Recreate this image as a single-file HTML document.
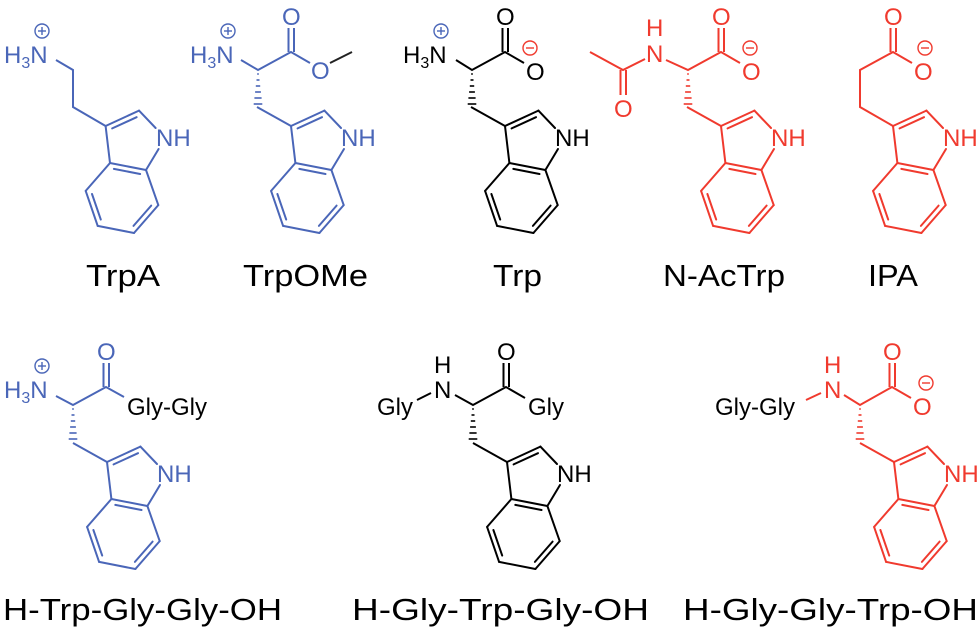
<!DOCTYPE html>
<html><head><meta charset="utf-8"><style>
html,body{margin:0;padding:0;background:#fff;}
svg{display:block;}
text{font-family:"Liberation Sans",Arial,sans-serif;}
.a{font-size:24px;}
.lab{font-size:31px;fill:#000;}
</style></head><body>
<svg width="980" height="633" viewBox="0 0 980 633" xmlns="http://www.w3.org/2000/svg">
<defs>
<g id="ind" fill="none" stroke-width="2" stroke-linecap="round">
<line x1="0" y1="0" x2="33.4" y2="-15.4"/>
<line x1="6.6" y1="2.4" x2="31" y2="-8.8"/>
<line x1="33.4" y1="-15.4" x2="50" y2="2"/>
<line x1="53" y1="23" x2="40.4" y2="44"/>
<line x1="40.4" y1="44" x2="4.4" y2="37"/>
<line x1="34.5" y1="48" x2="8.3" y2="42.9"/>
<line x1="4.4" y1="37" x2="0" y2="0"/>
<line x1="4.4" y1="37" x2="-19.9" y2="64.9"/>
<line x1="-19.9" y1="64.9" x2="-7.9" y2="99.9"/>
<line x1="-13.6" y1="68" x2="-4.8" y2="93.6"/>
<line x1="-7.9" y1="99.9" x2="28.4" y2="107"/>
<line x1="28.4" y1="107" x2="52.7" y2="79.1"/>
<line x1="27.9" y1="99.9" x2="45.6" y2="79.6"/>
<line x1="52.7" y1="79.1" x2="40.4" y2="44"/>
</g>
<g id="hash" stroke-width="1.6">
<line x1="-0.8" y1="4" x2="0.8" y2="4"/>
<line x1="-1.5" y1="10" x2="1.5" y2="10"/>
<line x1="-2.2" y1="16" x2="2.2" y2="16"/>
<line x1="-2.9" y1="22" x2="2.9" y2="22"/>
<line x1="-3.6" y1="28" x2="3.6" y2="28"/>
<line x1="-4.3" y1="34" x2="4.3" y2="34"/>
</g>
<g id="plus" fill="none" stroke-width="1.4"><circle cx="0" cy="0" r="7"/><line x1="-4" y1="0" x2="4" y2="0"/><line x1="0" y1="-4" x2="0" y2="4"/></g>
<g id="minus" fill="none" stroke-width="1.4"><circle cx="0" cy="0" r="7"/><line x1="-4" y1="0" x2="4" y2="0"/></g>
</defs>

<!-- TrpA (blue) -->
<g stroke="#4a66b8" fill="#4a66b8">
<use href="#ind" x="105.6" y="126"/>
<polyline points="56,60 73,70 73,107 105.6,126" fill="none" stroke-width="2"/>
<use href="#plus" x="42" y="31"/>
<g stroke="none"><text class="a" x="4" y="63">H<tspan font-size="16" dy="5">3</tspan><tspan dy="-5">N</tspan></text>
<text class="a" x="156" y="146">NH</text></g>
</g>

<!-- TrpOMe (blue) -->
<g stroke="#4a66b8" fill="#4a66b8">
<use href="#ind" x="291" y="126"/>
<polyline points="257,107 291,126" fill="none" stroke-width="2"/>
<use href="#hash" x="258" y="70"/>
<polyline points="241,60 258,70 291,52 310,63" fill="none" stroke-width="2"/>
<line x1="288.5" y1="52" x2="288.5" y2="28" stroke-width="2"/>
<line x1="294" y1="52" x2="294" y2="28" stroke-width="2"/>
<use href="#plus" x="228" y="31"/>
<g stroke="none"><text class="a" x="190" y="63">H<tspan font-size="16" dy="5">3</tspan><tspan dy="-5">N</tspan></text>
<text class="a" x="282" y="25">O</text>
<text class="a" x="311" y="79">O</text>
<text class="a" x="341" y="146">NH</text></g>
</g>
<line x1="330" y1="63" x2="352" y2="52" stroke="#222" stroke-width="2"/>

<!-- Trp (black) -->
<g stroke="#000" fill="#000">
<use href="#ind" x="505" y="126"/>
<polyline points="456,60 472,70 505,52 524,63" fill="none" stroke-width="2"/>
<polyline points="471,107 505,126" fill="none" stroke-width="2"/>
<use href="#hash" x="472" y="70"/>
<line x1="502.5" y1="52" x2="502.5" y2="28" stroke-width="2"/>
<line x1="508" y1="52" x2="508" y2="28" stroke-width="2"/>
<g stroke="none"><text class="a" x="403" y="63">H<tspan font-size="16" dy="5">3</tspan><tspan dy="-5">N</tspan></text>
<text class="a" x="496" y="25">O</text>
<text class="a" x="526" y="80">O</text>
<text class="a" x="555" y="146">NH</text></g>
</g>
<use href="#plus" x="441" y="31" stroke="#4a66b8"/>
<use href="#minus" x="530" y="48" stroke="#f03a2e"/>

<!-- N-AcTrp (red) -->
<g stroke="#f03a2e" fill="#f03a2e">
<use href="#ind" x="721" y="126"/>
<polyline points="687,107 721,126" fill="none" stroke-width="2"/>
<use href="#hash" x="688" y="70"/>
<polyline points="666,60 688,70 721,52 740,63" fill="none" stroke-width="2"/>
<polyline points="590,52 623,70 645,59" fill="none" stroke-width="2"/>
<line x1="620.5" y1="70" x2="620.5" y2="95" stroke-width="2"/>
<line x1="626" y1="70" x2="626" y2="95" stroke-width="2"/>
<line x1="718.5" y1="52" x2="718.5" y2="28" stroke-width="2"/>
<line x1="724" y1="52" x2="724" y2="28" stroke-width="2"/>
<use href="#minus" x="750" y="48"/>
<g stroke="none">
<text class="a" x="646" y="36">H</text>
<text class="a" x="646" y="62">N</text>
<text class="a" x="614" y="117">O</text>
<text class="a" x="712" y="25">O</text>
<text class="a" x="742" y="80">O</text>
<text class="a" x="771" y="146">NH</text></g>
</g>

<!-- IPA (red) -->
<g stroke="#f03a2e" fill="#f03a2e">
<use href="#ind" x="893" y="126"/>
<polyline points="893,126 860,107 860,70 893,52 912,63" fill="none" stroke-width="2"/>
<line x1="890.5" y1="52" x2="890.5" y2="28" stroke-width="2"/>
<line x1="896" y1="52" x2="896" y2="28" stroke-width="2"/>
<use href="#minus" x="925" y="48"/>
<g stroke="none">
<text class="a" x="884" y="25">O</text>
<text class="a" x="914" y="80">O</text>
<text class="a" x="943" y="146">NH</text></g>
</g>

<!-- Top labels -->
<text class="lab" x="86" y="286" textLength="74" lengthAdjust="spacingAndGlyphs">TrpA</text>
<text class="lab" x="243" y="286" textLength="125" lengthAdjust="spacingAndGlyphs">TrpOMe</text>
<text class="lab" x="493" y="286" textLength="49" lengthAdjust="spacingAndGlyphs">Trp</text>
<text class="lab" x="663" y="286" textLength="122" lengthAdjust="spacingAndGlyphs">N-AcTrp</text>
<text class="lab" x="868" y="286" textLength="50" lengthAdjust="spacingAndGlyphs">IPA</text>

<!-- H-Trp-Gly-Gly-OH (blue) -->
<g stroke="#4a66b8" fill="#4a66b8">
<use href="#ind" x="107" y="462"/>
<polyline points="73,443 107,462" fill="none" stroke-width="2"/>
<use href="#hash" x="73" y="405"/>
<polyline points="56,396 73,405 106,387 124,397" fill="none" stroke-width="2"/>
<line x1="103.5" y1="387" x2="103.5" y2="363" stroke-width="2"/>
<line x1="109" y1="387" x2="109" y2="363" stroke-width="2"/>
<use href="#plus" x="42" y="366"/>
<g stroke="none"><text class="a" x="4" y="398">H<tspan font-size="16" dy="5">3</tspan><tspan dy="-5">N</tspan></text>
<text class="a" x="97" y="360">O</text>
<text class="a" x="157" y="482">NH</text></g>
</g>
<text class="a" x="127" y="415" fill="#000">Gly-Gly</text>

<!-- H-Gly-Trp-Gly-OH (black) -->
<g stroke="#000" fill="#000">
<use href="#ind" x="507" y="462"/>
<polyline points="473,443 507,462" fill="none" stroke-width="2"/>
<use href="#hash" x="473" y="405"/>
<polyline points="455,395 473,405 506,387 525,398" fill="none" stroke-width="2"/>
<line x1="417" y1="400" x2="431" y2="393" stroke-width="2"/>
<line x1="503.5" y1="387" x2="503.5" y2="363" stroke-width="2"/>
<line x1="509" y1="387" x2="509" y2="363" stroke-width="2"/>
<g stroke="none">
<text class="a" x="377" y="415">Gly</text>
<text class="a" x="434" y="373">H</text>
<text class="a" x="434" y="398">N</text>
<text class="a" x="497" y="360">O</text>
<text class="a" x="528" y="415">Gly</text>
<text class="a" x="557" y="482">NH</text></g>
</g>

<!-- H-Gly-Gly-Trp-OH (red) -->
<g stroke="#f03a2e" fill="#f03a2e">
<use href="#ind" x="894" y="462"/>
<polyline points="860,443 894,462" fill="none" stroke-width="2"/>
<use href="#hash" x="860" y="405"/>
<polyline points="844,395 860,405 892,387 911,398" fill="none" stroke-width="2"/>
<line x1="806" y1="400" x2="821" y2="393" stroke-width="2"/>
<line x1="889.5" y1="387" x2="889.5" y2="363" stroke-width="2"/>
<line x1="895" y1="387" x2="895" y2="363" stroke-width="2"/>
<use href="#minus" x="926" y="383"/>
<g stroke="none">
<text class="a" x="824" y="373">H</text>
<text class="a" x="824" y="398">N</text>
<text class="a" x="883" y="360">O</text>
<text class="a" x="913" y="415">O</text>
<text class="a" x="944" y="482">NH</text></g>
</g>
<text class="a" x="715" y="415" fill="#000">Gly-Gly</text>

<!-- Bottom labels -->
<text class="lab" x="3" y="620" textLength="279" lengthAdjust="spacingAndGlyphs">H-Trp-Gly-Gly-OH</text>
<text class="lab" x="352" y="620" textLength="297" lengthAdjust="spacingAndGlyphs">H-Gly-Trp-Gly-OH</text>
<text class="lab" x="683" y="620" textLength="295" lengthAdjust="spacingAndGlyphs">H-Gly-Gly-Trp-OH</text>
</svg>
</body></html>
